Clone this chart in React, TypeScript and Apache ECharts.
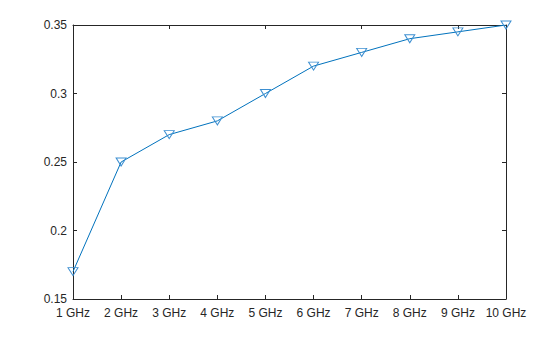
import React, { useEffect, useRef } from "react";
import * as echarts from "echarts";

const categories = ["1 GHz", "2 GHz", "3 GHz", "4 GHz", "5 GHz", "6 GHz", "7 GHz", "8 GHz", "9 GHz", "10 GHz"];
const values = [0.17, 0.25, 0.27, 0.28, 0.3, 0.32, 0.33, 0.34, 0.345, 0.35];
const yTicks = { min: 0.15, max: 0.35, interval: 0.05 };

export default function App() {
  const ref = useRef<HTMLDivElement>(null);
  useEffect(() => {
    if (!ref.current) return;
    const chart = echarts.init(ref.current, undefined, { renderer: "svg" });
    const axisLine = { show: true, lineStyle: { color: "#262626", width: 1 } };
    const axisTick = { show: true, inside: true, length: 4, lineStyle: { color: "#262626", width: 1 } };
    const label = { color: "#262626", fontSize: 12, fontFamily: "Liberation Sans, Arial, sans-serif" };
    chart.setOption({
      animation: false,
      backgroundColor: "#ffffff",
      grid: { left: 73, right: 54, top: 25, bottom: 38, containLabel: false },
      xAxis: [
        {
          type: "category",
          data: categories,
          boundaryGap: false,
          position: "bottom",
          axisLine,
          axisTick: { ...axisTick, alignWithLabel: true },
          axisLabel: { ...label, margin: 8, interval: 0 },
          splitLine: { show: false },
        },
        {
          type: "category",
          data: categories,
          boundaryGap: false,
          position: "top",
          axisLine,
          axisTick,
          axisLabel: { show: false },
          splitLine: { show: false },
        },
      ],
      yAxis: [
        {
          type: "value",
          min: yTicks.min,
          max: yTicks.max,
          interval: yTicks.interval,
          position: "left",
          axisLine,
          axisTick,
          axisLabel: { ...label, margin: 6 },
          splitLine: { show: false },
        },
        {
          type: "value",
          min: yTicks.min,
          max: yTicks.max,
          interval: yTicks.interval,
          position: "right",
          axisLine,
          axisTick,
          axisLabel: { show: false },
          splitLine: { show: false },
        },
      ],
      series: [
        {
          type: "line",
          data: values,
          xAxisIndex: 0,
          yAxisIndex: 0,
          symbol: "triangle",
          symbolRotate: 180,
          symbolSize: [10, 8],
          showAllSymbol: true,
          lineStyle: { color: "#0072BD", width: 1 },
          itemStyle: { color: "rgba(0,0,0,0)", borderColor: "#3d8fd1", borderWidth: 1 },
        },
      ],
    });
    return () => chart.dispose();
  }, []);
  return <div ref={ref} style={{ width: 560, height: 337, position: "absolute", left: 0, top: 0 }} />;
}
